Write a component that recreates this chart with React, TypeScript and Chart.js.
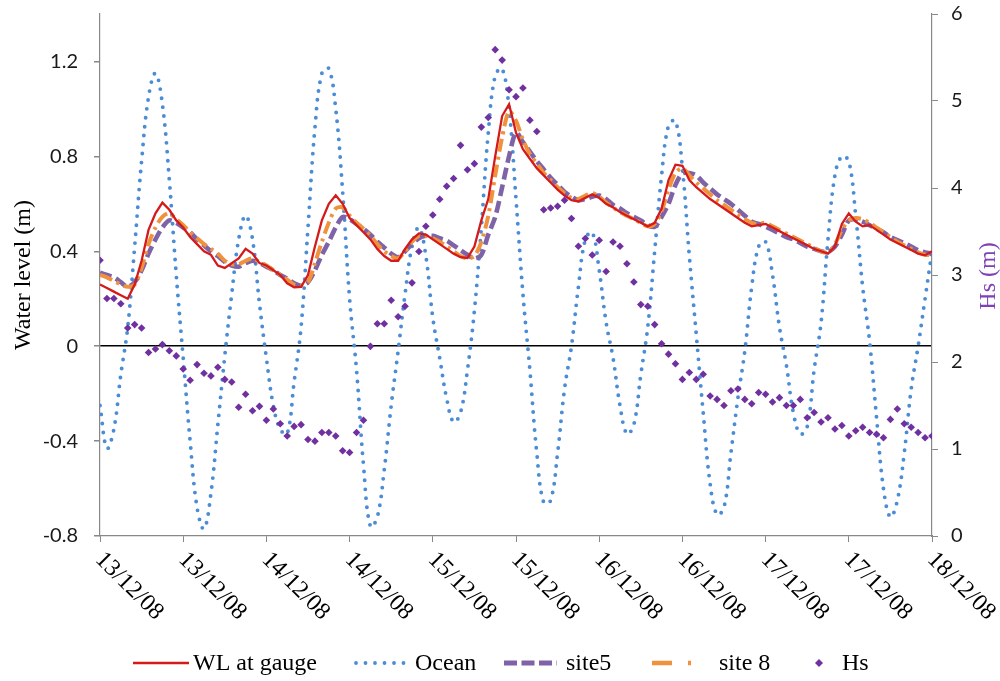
import React, { useEffect, useRef } from 'react';
import { Chart, registerables } from 'chart.js';

Chart.register(...registerables);

// Time axis: hours after 13/12/08 00:00
const hours: number[] = Array.from({ length: 121 }, (_, i) => i);

const xTickLabels = [
  '13/12/08', '13/12/08', '14/12/08', '14/12/08', '15/12/08', '15/12/08',
  '16/12/08', '16/12/08', '17/12/08', '17/12/08', '18/12/08',
];

const wlGauge = [
  0.26, 0.245, 0.23, 0.215, 0.2, 0.26, 0.36, 0.49, 0.56, 0.605,
  0.575, 0.53, 0.5, 0.46, 0.43, 0.4, 0.385, 0.34, 0.33, 0.35,
  0.37, 0.41, 0.39, 0.35, 0.34, 0.32, 0.3, 0.265, 0.248, 0.25,
  0.3, 0.42, 0.53, 0.6, 0.636, 0.6, 0.54, 0.51, 0.48, 0.45,
  0.41, 0.38, 0.36, 0.36, 0.41, 0.45, 0.475, 0.47, 0.45, 0.43,
  0.41, 0.39, 0.375, 0.372, 0.42, 0.53, 0.62, 0.8, 0.97, 1.02,
  0.9, 0.83, 0.79, 0.75, 0.72, 0.69, 0.66, 0.635, 0.615, 0.61,
  0.625, 0.64, 0.625, 0.6, 0.585, 0.565, 0.55, 0.535, 0.52, 0.505,
  0.52, 0.58, 0.7, 0.765, 0.76, 0.7, 0.67, 0.645, 0.62, 0.6,
  0.58, 0.56, 0.54, 0.52, 0.505, 0.51, 0.515, 0.5, 0.485, 0.47,
  0.455, 0.44, 0.425, 0.41, 0.4, 0.39, 0.42, 0.515, 0.56, 0.525,
  0.505, 0.51, 0.49, 0.47, 0.45, 0.435, 0.42, 0.405, 0.39, 0.383,
  0.4,
];

const ocean = [
  -0.25, -0.43, -0.35, -0.12, 0.08, 0.42, 0.78, 1.05, 1.15, 1.02,
  0.7, 0.3, -0.05, -0.4, -0.68, -0.77, -0.62, -0.33, -0.04, 0.22,
  0.45, 0.55, 0.45, 0.18, -0.05, -0.25, -0.35, -0.37, -0.15, 0.08,
  0.5, 0.92, 1.15, 1.17, 1.0, 0.65, 0.2, -0.1, -0.5, -0.76,
  -0.72, -0.52, -0.25, -0.02, 0.22, 0.42, 0.5, 0.38, 0.12, -0.05,
  -0.22, -0.32, -0.28, -0.1, 0.15, 0.5, 0.9, 1.14, 1.17, 1.0,
  0.62, 0.22, -0.1, -0.45, -0.66, -0.65, -0.45, -0.18, 0.0, 0.25,
  0.45, 0.48, 0.32, 0.1, -0.05, -0.25, -0.37, -0.33, -0.12, 0.08,
  0.4, 0.72, 0.93, 0.95, 0.75, 0.38, 0.05, -0.28, -0.58, -0.71,
  -0.68, -0.45, -0.22, -0.02, 0.25, 0.42, 0.44, 0.3, 0.08, -0.08,
  -0.28, -0.37, -0.34, -0.1, 0.1, 0.45, 0.72, 0.8, 0.78, 0.55,
  0.25, 0.02, -0.3, -0.6, -0.72, -0.65, -0.45, -0.18, 0.0, 0.2,
  0.4,
];

const site5 = [
  0.31, 0.3, 0.29, 0.27, 0.25, 0.27, 0.32, 0.39, 0.45, 0.5,
  0.53, 0.52, 0.5, 0.48, 0.45, 0.425, 0.4, 0.38, 0.355, 0.34,
  0.335, 0.35, 0.36, 0.35, 0.335, 0.32, 0.3, 0.285, 0.265, 0.255,
  0.27, 0.32, 0.385, 0.44, 0.5, 0.545, 0.535, 0.515, 0.495, 0.47,
  0.44, 0.415, 0.39, 0.375, 0.4, 0.43, 0.455, 0.465, 0.465, 0.455,
  0.445, 0.425, 0.405, 0.385, 0.37, 0.385, 0.47, 0.545, 0.67, 0.8,
  0.9, 0.86, 0.82, 0.78, 0.745, 0.71, 0.68, 0.65, 0.63, 0.615,
  0.62, 0.63, 0.635, 0.62, 0.595, 0.58, 0.56, 0.545, 0.53, 0.51,
  0.503, 0.545, 0.6, 0.68, 0.728, 0.73, 0.72, 0.69, 0.665, 0.64,
  0.62, 0.6, 0.575, 0.55, 0.525, 0.515, 0.503, 0.49, 0.475, 0.46,
  0.45, 0.435, 0.42, 0.41, 0.4, 0.397, 0.42, 0.47, 0.53, 0.535,
  0.525, 0.51, 0.495, 0.48, 0.46, 0.447, 0.435, 0.42, 0.405, 0.395,
  0.39,
];

const site8 = [
  0.3, 0.29, 0.275, 0.26, 0.25, 0.26, 0.33, 0.43, 0.5, 0.545,
  0.56, 0.535, 0.51, 0.48, 0.455, 0.43, 0.41, 0.39, 0.36, 0.345,
  0.345, 0.36, 0.37, 0.355, 0.34, 0.32, 0.3, 0.28, 0.26, 0.255,
  0.27, 0.35, 0.44, 0.52, 0.58, 0.585, 0.55, 0.52, 0.495, 0.465,
  0.43, 0.4, 0.38, 0.37, 0.4, 0.44, 0.465, 0.465, 0.455, 0.44,
  0.42, 0.4, 0.38, 0.37, 0.38, 0.44, 0.55, 0.72, 0.88, 0.99,
  0.95, 0.87, 0.81, 0.77, 0.73, 0.7, 0.67, 0.645, 0.625, 0.62,
  0.635, 0.645, 0.63, 0.605, 0.585, 0.565, 0.55, 0.535, 0.52, 0.505,
  0.515, 0.57, 0.66, 0.73, 0.75, 0.72, 0.69, 0.665, 0.64, 0.615,
  0.595, 0.575, 0.555, 0.535, 0.52, 0.515, 0.52, 0.505, 0.49, 0.475,
  0.46, 0.445, 0.43, 0.415, 0.4, 0.395, 0.43, 0.49, 0.53, 0.54,
  0.535, 0.52, 0.5, 0.48, 0.46, 0.44, 0.425, 0.41, 0.395, 0.385,
  0.385,
];

const hs = [
  3.17, 2.73, 2.73, 2.67, 2.39, 2.43, 2.39, 2.11, 2.15, 2.2,
  2.13, 2.07, 1.92, 1.79, 1.97, 1.87, 1.84, 1.94, 1.8, 1.77,
  1.48, 1.63, 1.44, 1.49, 1.33, 1.46, 1.29, 1.15, 1.26, 1.28,
  1.11, 1.09, 1.19, 1.19, 1.15, 0.98, 0.96, 1.19, 1.33, 2.18,
  2.44, 2.44, 2.71, 2.52, 2.64, 2.91, 3.27, 3.56, 3.69, 3.87,
  4.02, 4.11, 4.49, 4.21, 4.28, 4.7, 4.81, 5.59, 5.47, 5.13,
  5.05, 5.15, 4.78, 4.65, 3.75, 3.77, 3.79, 3.86, 3.65, 3.33,
  3.42, 3.23, 3.4, 3.04, 3.38, 3.33, 3.13, 2.92, 2.66, 2.64,
  2.43, 2.21, 2.09, 1.98, 1.8, 1.88, 1.8, 1.86, 1.61, 1.57,
  1.5, 1.67, 1.69, 1.57, 1.52, 1.65, 1.63, 1.54, 1.59, 1.5,
  1.5, 1.57, 1.36, 1.42, 1.31, 1.36, 1.23, 1.27, 1.15, 1.21,
  1.25, 1.19, 1.17, 1.13, 1.34, 1.46, 1.29, 1.25, 1.19, 1.13,
  1.15,
];

const RED = '#D41A1A';
const BLUE = '#4A8CD6';
const PURPLE_DASH = '#7E63A8';
const ORANGE = '#F0913C';
const HS_PURPLE = '#7030A0';
const SERIF = '"Liberation Serif", "Times New Roman", serif';
const SANS = 'Lato, "Open Sans", sans-serif';

const toXY = (vals: number[]) => vals.map((v, i) => ({ x: hours[i], y: v }));

const decorPlugin = {
  id: 'decor',
  afterDraw(chart: any) {
    const ctx = chart.ctx as CanvasRenderingContext2D;
    const xs = chart.scales.x;
    ctx.save();
    // rotated x tick labels
    ctx.font = `24px ${SERIF}`;
    ctx.fillStyle = '#000';
    xs.ticks.forEach((t: any, i: number) => {
      const px = xs.getPixelForValue(t.value);
      ctx.save();
      ctx.translate(px - 1, 556);
      ctx.rotate(Math.PI / 4);
      ctx.textAlign = 'left';
      ctx.textBaseline = 'middle';
      ctx.fillText(xTickLabels[i] ?? '', 0, 0);
      ctx.restore();
    });
    // right axis title
    ctx.save();
    ctx.translate(989, 276);
    ctx.rotate(-Math.PI / 2);
    ctx.textAlign = 'center';
    ctx.textBaseline = 'middle';
    ctx.fillStyle = '#8040B8';
    ctx.fillText('Hs (m)', 0, 0);
    ctx.restore();

    // legend
    const ly = 663;
    ctx.textAlign = 'left';
    ctx.textBaseline = 'middle';
    ctx.fillStyle = '#000';
    // WL
    ctx.save();
    ctx.strokeStyle = RED; ctx.lineWidth = 2.5;
    ctx.beginPath(); ctx.moveTo(133, ly); ctx.lineTo(189, ly); ctx.stroke();
    ctx.restore();
    ctx.fillText('WL at gauge', 193, ly + 1);
    // Ocean
    ctx.save();
    ctx.strokeStyle = BLUE; ctx.lineWidth = 3.8; ctx.lineCap = 'round';
    ctx.setLineDash([0, 9.5]);
    ctx.beginPath(); ctx.moveTo(356, ly); ctx.lineTo(404, ly); ctx.stroke();
    ctx.restore();
    ctx.fillText('Ocean', 415, ly + 1);
    // site5
    ctx.save();
    ctx.strokeStyle = PURPLE_DASH; ctx.lineWidth = 5;
    ctx.setLineDash([13, 4.5]);
    ctx.beginPath(); ctx.moveTo(504, ly); ctx.lineTo(557, ly); ctx.stroke();
    ctx.restore();
    ctx.fillText('site5', 566, ly + 1);
    // site 8
    ctx.save();
    ctx.strokeStyle = ORANGE; ctx.lineWidth = 4.5;
    ctx.setLineDash([20, 16, 3, 16]);
    ctx.beginPath(); ctx.moveTo(652, ly); ctx.lineTo(694, ly); ctx.stroke();
    ctx.restore();
    ctx.fillText('site 8', 719, ly + 1);
    // Hs
    ctx.save();
    ctx.fillStyle = HS_PURPLE;
    ctx.beginPath();
    ctx.moveTo(819, ly - 4); ctx.lineTo(823, ly); ctx.lineTo(819, ly + 4); ctx.lineTo(815, ly);
    ctx.closePath(); ctx.fill();
    ctx.restore();
    ctx.fillText('Hs', 842, ly + 1);
    ctx.restore();
  },
};

export default function App() {
  const canvasRef = useRef<HTMLCanvasElement | null>(null);

  useEffect(() => {
    document.body.style.margin = '0';
    const canvas = canvasRef.current;
    if (!canvas) return;
    const chart = new Chart(canvas, {
      type: 'line',
      data: {
        datasets: [
          {
            label: 'Hs',
            data: toXY(hs),
            yAxisID: 'y2',
            showLine: false,
            pointStyle: 'rectRot',
            pointRadius: 3.8,
            pointBorderWidth: 0,
            pointBackgroundColor: HS_PURPLE,
            borderColor: HS_PURPLE,
            backgroundColor: HS_PURPLE,
            order: 0,
          },
          {
            label: 'WL at gauge',
            data: toXY(wlGauge),
            yAxisID: 'y',
            borderColor: RED,
            borderWidth: 2.3,
            pointRadius: 0,
            tension: 0,
            order: 1,
          },
          {
            label: 'site 8',
            data: toXY(site8),
            yAxisID: 'y',
            borderColor: ORANGE,
            borderWidth: 4,
            borderDash: [13, 5, 3, 5],
            pointRadius: 0,
            tension: 0.3,
            order: 2,
          },
          {
            label: 'site5',
            data: toXY(site5),
            yAxisID: 'y',
            borderColor: PURPLE_DASH,
            borderWidth: 4.6,
            borderDash: [12, 5],
            pointRadius: 0,
            tension: 0.3,
            order: 3,
          },
          {
            label: 'Ocean',
            data: toXY(ocean),
            yAxisID: 'y',
            borderColor: BLUE,
            borderWidth: 3.9,
            borderDash: [0, 9],
            borderCapStyle: 'round',
            pointRadius: 0,
            tension: 0.4,
            order: 4,
          },
        ],
      },
      options: {
        animation: false,
        responsive: false,
        maintainAspectRatio: false,
        layout: { padding: { left: 0, right: 0, top: 14, bottom: 0 } },
        plugins: {
          legend: { display: false },
          tooltip: { enabled: false },
          title: { display: false },
        },
        scales: {
          x: {
            type: 'linear',
            min: 0,
            max: 120,
            ticks: { stepSize: 12, display: false },
            grid: {
              drawOnChartArea: false,
              drawTicks: true,
              tickLength: 6,
              tickColor: '#888',
              color: '#888',
            },
            border: { display: true, color: '#888', width: 1.2 },
            afterFit: (s: any) => { s.height = 145; s.paddingLeft = 0; s.paddingRight = 0; },
          },
          y: {
            type: 'linear',
            position: 'left',
            min: -0.8,
            max: 1.4,
            ticks: {
              stepSize: 0.4,
              includeBounds: false,
              padding: 16,
              color: '#1a1a1a',
              font: { family: SANS, size: 20 },
              callback: (v: any) => {
                const n = Number(v);
                return Math.abs(n) < 1e-9 ? '0' : n.toFixed(1);
              },
            },
            grid: {
              drawOnChartArea: true,
              drawTicks: true,
              tickLength: 6,
              tickColor: '#888',
              lineWidth: 1.5,
              color: (c: any) => (c.tick && Math.abs(c.tick.value) < 1e-9 ? '#000' : 'rgba(0,0,0,0)'),
            },
            border: { display: true, color: '#888', width: 1.2 },
            title: {
              display: true,
              text: 'Water level (m)',
              color: '#000',
              font: { family: SERIF, size: 24 },
              padding: { top: 9, bottom: 0 },
            },
            afterFit: (s: any) => { s.width = 100; s.paddingTop = 0; s.paddingBottom = 0; },
          },
          y2: {
            type: 'linear',
            position: 'right',
            min: 0,
            max: 6,
            ticks: {
              stepSize: 1,
              padding: 13,
              color: '#1a1a1a',
              font: { family: SANS, size: 20 },
            },
            grid: {
              drawOnChartArea: false,
              drawTicks: true,
              tickLength: 6,
              tickColor: '#888',
              color: '#888',
            },
            border: { display: true, color: '#888', width: 1.2 },
            afterFit: (s: any) => { s.width = 68; s.paddingTop = 0; s.paddingBottom = 0; },
          },
        },
      },
      plugins: [decorPlugin],
    } as any);
    return () => chart.destroy();
  }, []);

  return (
    <div style={{ position: 'fixed', left: 0, top: 0, width: 1000, height: 681, background: '#fff' }}>
      <canvas ref={canvasRef} width={1000} height={681} style={{ display: 'block' }} />
    </div>
  );
}
